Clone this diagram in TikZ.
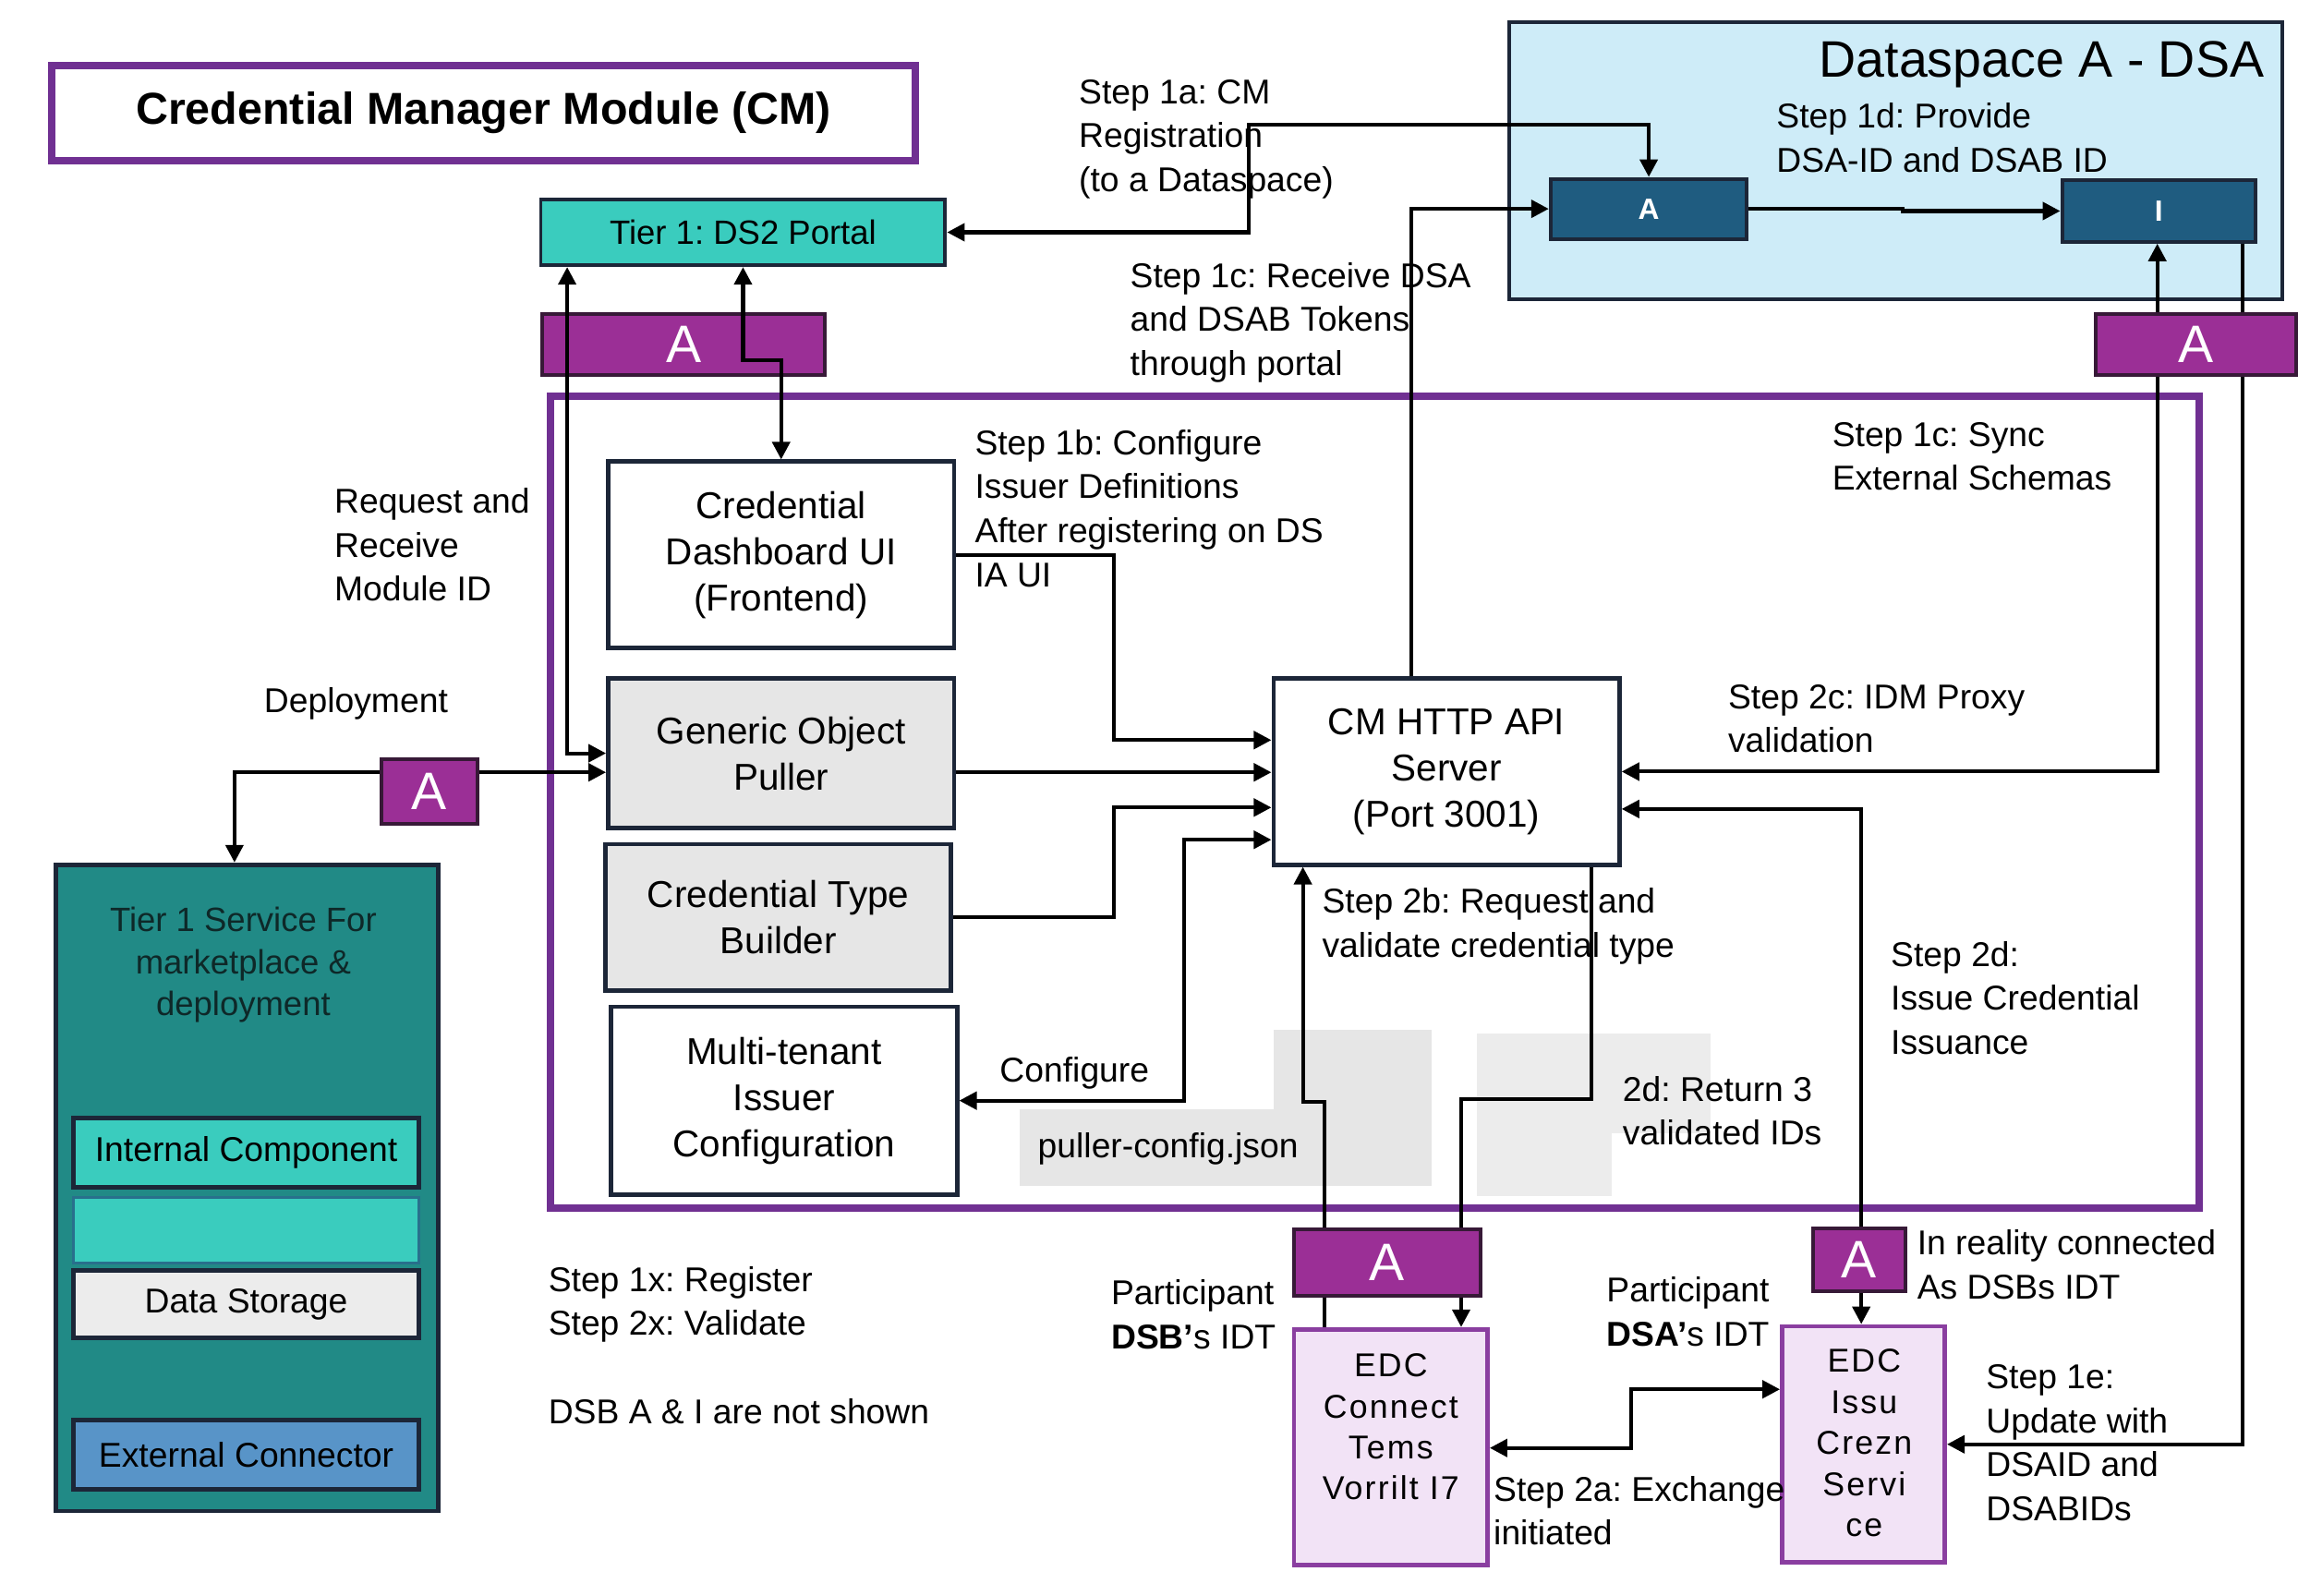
\documentclass[tikz,border=0pt]{standalone}
\usepackage{fontspec}
\setmainfont{Liberation Sans}
\frenchspacing
\usetikzlibrary{arrows.meta}
\definecolor{purp}{RGB}{112,48,146}
\definecolor{magf}{RGB}{155,47,150}
\definecolor{magb}{RGB}{55,25,55}
\definecolor{navy}{RGB}{28,38,56}
\definecolor{tealc}{RGB}{58,204,190}
\definecolor{tealdk}{RGB}{33,138,134}
\definecolor{extc}{RGB}{88,148,200}
\definecolor{gryc}{RGB}{230,230,230}
\definecolor{gryd}{RGB}{236,236,236}
\definecolor{dsfill}{RGB}{206,236,248}
\definecolor{dsbox}{RGB}{31,92,128}
\definecolor{edcf}{RGB}{242,227,246}
\definecolor{edcb}{RGB}{138,62,160}
\definecolor{tiertxt}{RGB}{14,40,40}
\begin{document}
\begin{tikzpicture}[x=1pt,y=-1pt,
  box/.style={draw=navy, line width=3pt, fill=white, inner sep=0pt, align=center,
    font=\fontsize{25.5}{31.5}\selectfont},
  greybox/.style={box, fill=gryc},
  mag/.style={draw=magb, fill=magf, line width=2.5pt, inner sep=0pt, text=white,
    font=\fontsize{36}{36}\selectfont},
  dsbx/.style={draw=navy, fill=dsbox, line width=2.5pt, inner sep=0pt, text=white,
    font=\fontsize{20}{20}\selectfont\bfseries},
  legbox/.style={draw=navy, line width=3pt, inner sep=0pt, minimum width=236pt,
    font=\fontsize{23.5}{28}\selectfont},
  edc/.style={draw=edcb, fill=edcf, line width=3pt, inner sep=0pt},
  edctxt/.style={anchor=north, inner sep=0pt, align=center,
    font=\fontsize{22.5}{28}\selectfont\addfontfeature{LetterSpace=6}},
  lbl/.style={anchor=north west, inner sep=0pt, align=left,
    font=\fontsize{23.5}{30}\selectfont},
  con/.style={line width=2.6pt},
  arr/.style={con, -{Triangle[length=12pt,width=12pt]}},
  dbl/.style={con, {Triangle[length=12pt,width=12pt]}-{Triangle[length=12pt,width=12pt]}}
]
\useasboundingbox (0,0) rectangle (1568,1089);
\fill[white] (0,0) rectangle (1568,1089);

% grey placeholder shapes
\fill[gryc] (869,703) rectangle (977,809);
\fill[gryc] (696,757) rectangle (977,809);
\fill[gryd] (1008,705) rectangle (1167,773);
\fill[gryd] (1008,773) rectangle (1100,816);

% title
\node[draw=purp, line width=5pt, minimum width=589pt, minimum height=65pt, inner sep=0pt,
  font=\fontsize{30.5}{36}\selectfont\bfseries] (title) at (330,77) {Credential Manager Module (CM)};

% dataspace
\node[draw=navy, fill=dsfill, line width=2.5pt, minimum width=527pt, minimum height=189pt, inner sep=0pt] (ds) at (1293.5,109.5) {};
\node[dsbx, minimum width=134pt, minimum height=41pt] (dsA) at (1125,142.5) {A};
\node[dsbx, minimum width=132pt, minimum height=42pt] (dsI) at (1473,144) {I};

% portal and magenta boxes
\node[draw=navy, fill=tealc, line width=2.5pt, minimum width=276pt, minimum height=45pt, inner sep=0pt,
  font=\fontsize{23}{28}\selectfont] (portal) at (507,158.5) {Tier 1: DS2 Portal};
\node[mag, minimum width=193pt, minimum height=42pt] (magTL) at (466.5,235) {A};
\node[mag, minimum width=137pt, minimum height=42pt] (magRT) at (1498.5,235) {A};

% CM frame
\node[draw=purp, line width=5pt, minimum width=1125pt, minimum height=554pt, inner sep=0pt] (cmframe) at (938,547.5) {};

% inner boxes
\node[box, minimum width=236pt, minimum height=127pt] (dash) at (533,378.5) {Credential\\Dashboard UI\\(Frontend)};
\node[greybox, minimum width=236pt, minimum height=102pt] (gop) at (533,514) {Generic Object\\Puller};
\node[greybox, minimum width=236pt, minimum height=100pt] (ctb) at (531,626) {Credential Type\\Builder};
\node[box, minimum width=236pt, minimum height=128pt] (mtic) at (535,751) {Multi-tenant\\Issuer\\Configuration};
\node[box, minimum width=236pt, minimum height=127pt] (server) at (987,526.5) {CM HTTP API\\Server\\(Port 3001)};

% left panel
\node[mag, minimum width=66pt, minimum height=44pt] (smallA) at (293,540) {A};
\node[draw=navy, fill=tealdk, line width=3pt, minimum width=261pt, minimum height=441pt, inner sep=0pt] (panel) at (168.5,810.5) {};
\node[anchor=north, inner sep=0pt, align=center, text=tiertxt,
  font=\fontsize{23}{28.5}\selectfont] (paneltxt) at (166,619) {Tier 1 Service For\\marketplace \&\\deployment};
\node[legbox, fill=tealc, minimum height=47pt] (intc) at (168,786.5) {Internal Component};
\node[draw={rgb,255:red,40;green,112;blue,140}, line width=2pt, fill=tealc, minimum width=236pt, minimum height=45pt, inner sep=0pt] (emptyc) at (168,839.5) {};
\node[legbox, fill=gryd, minimum height=46pt] (stor) at (168,890) {Data Storage};
\node[legbox, fill=extc, minimum height=47pt] (extcon) at (168,992.5) {External Connector};

% bottom boxes
\node[mag, minimum width=127pt, minimum height=45pt] (magL) at (946.5,861.5) {A};
\node[mag, minimum width=63pt, minimum height=43pt] (magR) at (1268.5,859.5) {A};
\node[edc, minimum width=132pt, minimum height=161pt] (edcL) at (949,987.5) {};
\node[edc, minimum width=111pt, minimum height=161pt] (edcR) at (1271.5,985.5) {};
\node[edctxt] (edcLt) at (949,923.5) {EDC\\Connect\\Tems\\Vorrilt I7};
\node[edctxt] (edcRt) at (1272,920.5) {EDC\\Issu\\Crezn\\Servi\\ce};

% connectors
\draw[dbl] (portal.east) -| (852,85) -| (dsA.north);
\draw[arr] (server.north -| 963,0) |- (dsA.west);
\draw[arr] (dsA.east) -- (1298,142.5) |- (dsI.west);
\draw[dbl] (portal.south -| 387,0) |- (gop.west);
\draw[dbl] (portal.south) -- (507,246) -| (dash.north);
\draw[arr] (smallA.west |- 0,527) -| (panel.north -| 160,0);
\draw[arr] (smallA.east |- 0,527) -- (gop.west |- 0,527);
\draw[arr] (dash.east) -- (760,378.5) |- (server.west |- 0,505);
\draw[arr] (gop.east |- 0,527) -- (server.west |- 0,527);
\draw[arr] (ctb.east) -- (760,626) |- (server.west |- 0,551);
\draw[dbl] (mtic.east) -- (808,751) |- (server.west |- 0,573);
\draw[arr] (magRT.south -| 1472,0) |- (server.east);
\draw[arr] (magRT.north -| 1472,0) -- (dsI.south -| 1472,0);
\draw[arr] (magR.north -| 1270,0) |- (server.east |- 0,552);
\draw[arr] (magR.south -| 1270,0) -- (edcR.north -| 1270,0);
\draw[con] (dsI.south -| 1530,0) -- (magRT.north -| 1530,0);
\draw[arr] (magRT.south -| 1530,0) |- (edcR.east);
\draw[con] (edcL.north -| 904,0) -- (magL.south -| 904,0);
\draw[arr] (magL.north -| 904,0) -- (904,752) -| (server.south -| 889,0);
\draw[con] (server.south -| 1086,0) |- (997,750) -- (magL.north -| 997,0);
\draw[arr] (magL.south -| 997,0) -- (edcL.north -| 997,0);
\draw[dbl] (edcL.east |- 0,988) -- (1113,988) |- (edcR.west |- 0,948);

% labels
\node[anchor=east, inner sep=0pt, font=\fontsize{35}{40}\selectfont] (dstitle) at (1545,44) {Dataspace A - DSA};
\node[lbl] (l1d) at (1212,70) {Step 1d: Provide\\DSA-ID and DSAB ID};
\node[lbl] (l1a) at (736,54) {Step 1a: CM\\Registration\\(to a Dataspace)};
\node[lbl] (l1c) at (771,179) {Step 1c: Receive DSA\\and DSAB Tokens\\through portal};
\node[lbl] (lreq) at (228,333) {Request and\\Receive\\Module ID};
\node[lbl] (ldep) at (180,469) {Deployment};
\node[lbl] (l1b) at (665,293) {Step 1b: Configure\\Issuer Definitions\\After registering on DS\\IA UI};
\node[lbl] (lsync) at (1250,288) {Step 1c: Sync\\External Schemas};
\node[lbl] (l2c) at (1179,467) {Step 2c: IDM Proxy\\validation};
\node[lbl] (l2b) at (902,606) {Step 2b: Request and\\validate credential type};
\node[lbl] (l2d) at (1290,642) {Step 2d:\\Issue Credential\\Issuance};
\node[lbl] (lconf) at (682,721) {Configure};
\node[lbl] (lpull) at (708,773) {puller-config.json};
\node[lbl] (lret) at (1107,734) {2d: Return 3\\validated IDs};
\node[lbl] (lleg) at (374,864) {Step 1x: Register\\Step 2x: Validate};
\node[lbl] (ldsb) at (374,954) {DSB A \& I are not shown};
\node[lbl] (lpL) at (758,873) {Participant\\\textbf{DSB’}s IDT};
\node[lbl] (lpR) at (1096,871) {Participant\\\textbf{DSA’}s IDT};
\node[lbl] (lreal) at (1308,839) {In reality connected\\As DSBs IDT};
\node[lbl] (l2a) at (1019,1007) {Step 2a: Exchange\\initiated};
\node[lbl] (l1e) at (1355,931) {Step 1e:\\Update with\\DSAID and\\DSABIDs};
\end{tikzpicture}
\end{document}
